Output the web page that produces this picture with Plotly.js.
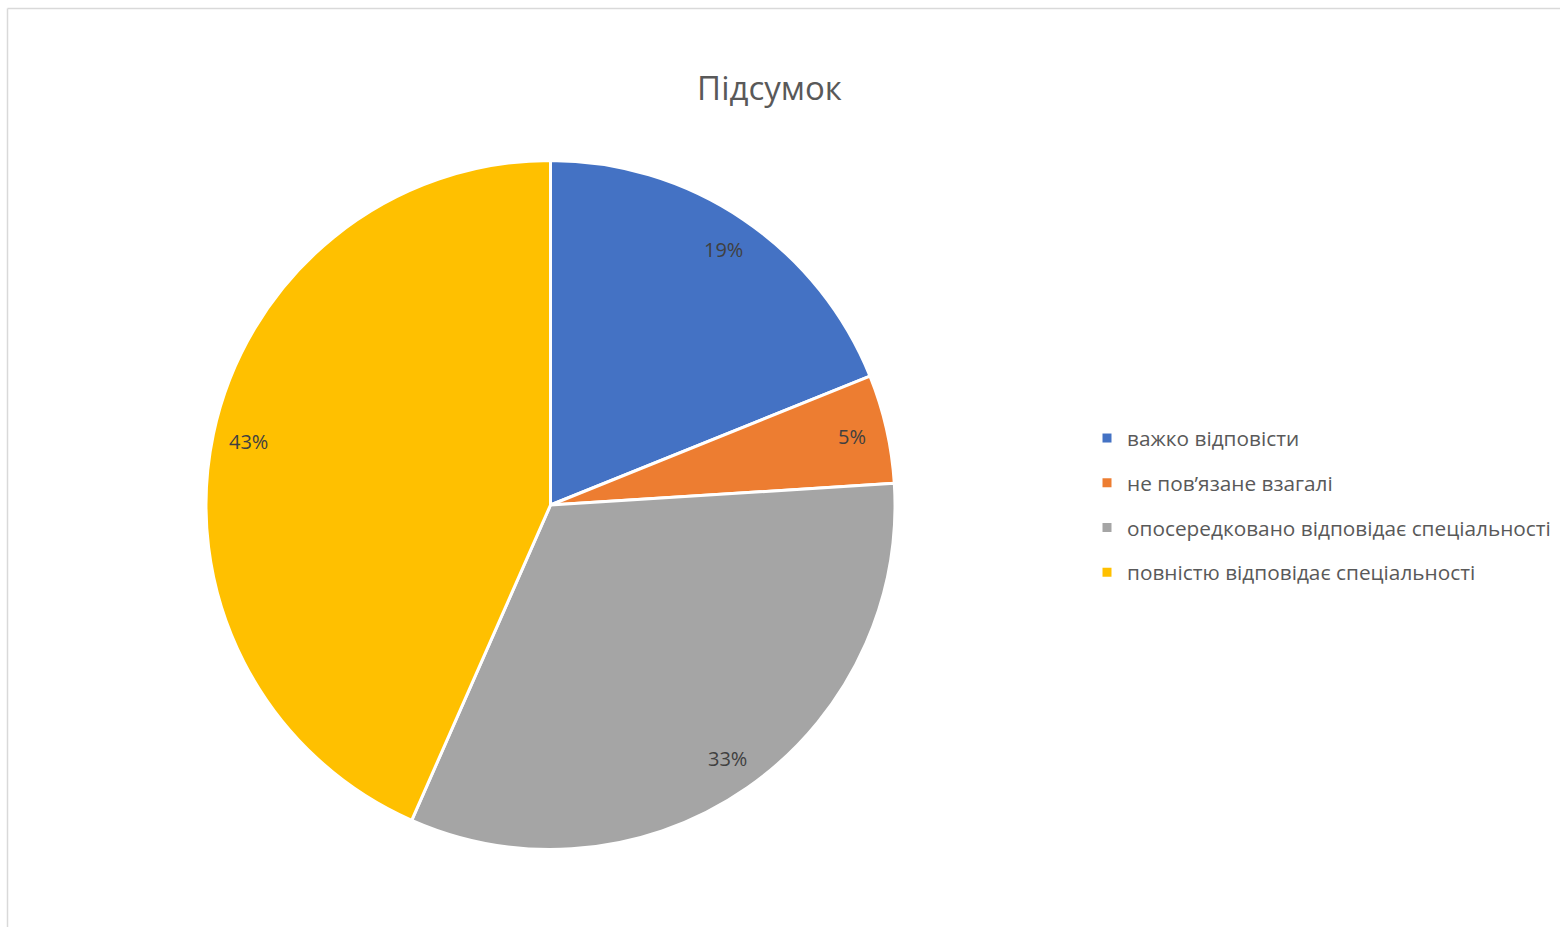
<!DOCTYPE html>
<html>
<head>
<meta charset="utf-8">
<script src="https://cdn.plot.ly/plotly-3.0.1.min.js"></script>
<style>
  html, body { margin: 0; padding: 0; background: #ffffff; }
  #chart { width: 1560px; height: 927px; }
</style>
</head>
<body>
<div id="chart"></div>
<script>
// ---- data ----
const categories = [
  "важко відповісти",
  "не пов’язане взагалі",
  "опосередковано відповідає спеціальності",
  "повністю відповідає спеціальності"
];
const values = [18.9, 5.1, 32.6, 43.4];
const colors = ["#4472C4", "#ED7D31", "#A5A5A5", "#FFC000"];
const chartTitle = "Підсумок";

// ---- layout geometry ----
const W = 1560, H = 927;
const cx = 550.5, cy = 505, r = 343;
const rd = 344.5; // domain half-size (plotly trims for the border line)
const FONT = "Open Sans, Noto Sans, sans-serif";

const pie = {
  type: "pie",
  labels: categories,
  values: values,
  sort: false,
  direction: "clockwise",
  rotation: 0,
  marker: { colors: colors, line: { color: "#ffffff", width: 3 } },
  textinfo: "none",
  hoverinfo: "label+percent",
  showlegend: false,
  domain: { x: [(cx - rd) / W, (cx + rd) / W], y: [1 - (cy + rd) / H, 1 - (cy - rd) / H] }
};

// legend entries
const legendTraces = categories.map((c, i) => ({
  type: "scatter",
  mode: "markers",
  x: [null], y: [null],
  name: c,
  legendgroup: "g" + i,
  marker: { symbol: "square", size: 9, color: colors[i] },
  hoverinfo: "skip"
}));

// percentage labels computed from the data
const total = values.reduce((a, b) => a + b, 0);
let cum = 0;
const annotations = values.map((v, i) => {
  const mid = (cum + v / 2) / total;
  cum += v;
  const th = 2 * Math.PI * mid;
  const px = cx + 0.9 * r * Math.sin(th);
  const py = cy - 0.9 * r * Math.cos(th);
  return {
    xref: "paper", yref: "paper",
    x: px / W, y: 1 - py / H,
    xanchor: "center", yanchor: "middle",
    text: Math.round(v / total * 100) + "%",
    showarrow: false,
    font: { family: FONT, size: 20, color: "#404040" }
  };
});

const layout = {
  width: W, height: H,
  margin: { l: 0, r: 0, t: 0, b: 0 },
  paper_bgcolor: "#ffffff",
  plot_bgcolor: "#ffffff",
  title: {
    text: chartTitle,
    x: 769.5 / W, xanchor: "center",
    y: 1 - 88 / H, yanchor: "middle", yref: "container",
    font: { family: FONT, size: 33, color: "#595959" }
  },
  xaxis: { visible: false },
  yaxis: { visible: false },
  showlegend: true,
  legend: {
    x: 1087 / W, xanchor: "left",
    y: 1 - 418 / H, yanchor: "top",
    font: { family: FONT, size: 20.8, color: "#595959" },
    tracegroupgap: 14.7,
    itemwidth: 30,
    bgcolor: "rgba(0,0,0,0)"
  },
  annotations: annotations,
  shapes: [
    { type: "line", xref: "paper", yref: "paper", x0: 7.5 / W, x1: 1, y0: 1 - 8.5 / H, y1: 1 - 8.5 / H, line: { color: "#d9d9d9", width: 1.5 } },
    { type: "line", xref: "paper", yref: "paper", x0: 7.5 / W, x1: 7.5 / W, y0: 0, y1: 1 - 8.5 / H, line: { color: "#d9d9d9", width: 1.5 } }
  ]
};

Plotly.newPlot("chart", [pie].concat(legendTraces), layout, { displayModeBar: false, staticPlot: true });
</script>
</body>
</html>
